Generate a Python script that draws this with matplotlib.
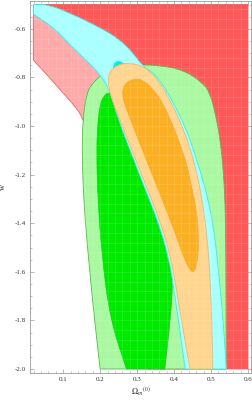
import matplotlib
matplotlib.use("Agg")
import matplotlib.pyplot as plt
import matplotlib.ticker as mticker
from matplotlib.path import Path
from matplotlib.patches import PathPatch
import numpy as np

# ── Contour boundaries (Omega_m, w) ──────────────────────────────────────
# red / pink constraint (1 sigma = red, 2 sigma = pink), open to the upper right
red_x = [0.045, 0.10, 0.16, 0.22, 0.27, 0.31, 0.36, 0.41, 0.45, 0.48, 0.505, 0.525, 0.535]
red_w = [-0.50, -0.54, -0.60, -0.66, -0.72, -0.79, -0.88, -1.00, -1.15, -1.35, -1.60, -1.80, -2.00]
pink_x = [0.02, 0.06, 0.10, 0.13, 0.153, 0.17, 0.20, 0.25, 0.30, 0.33]
pink_w = [-0.73, -0.795, -0.865, -0.915, -0.965, -1.05, -1.20, -1.45, -1.75, -2.00]

# green constraint
lgreen_x = [0.20, 0.185, 0.172, 0.160, 0.154, 0.151, 0.153, 0.163, 0.181, 0.204, 0.24, 0.29,
            0.348, 0.425, 0.48, 0.497, 0.512, 0.525, 0.533, 0.538, 0.540, 0.541]
lgreen_w = [-2.00, -1.80, -1.60, -1.40, -1.25, -1.10, -0.978, -0.866, -0.82, -0.79, -0.76, -0.75,
            -0.748, -0.768, -0.825, -0.866, -0.95, -1.06, -1.18, -1.31, -1.50, -2.00]
dgreen_x = [0.271, 0.226, 0.204, 0.194, 0.190, 0.194, 0.200, 0.210, 0.225, 0.25, 0.28, 0.33,
            0.37, 0.39, 0.397, 0.39, 0.375]
dgreen_w = [-2.00, -1.79, -1.52, -1.31, -1.10, -0.978, -0.91, -0.875, -0.86, -0.88, -1.00, -1.20,
            -1.38, -1.50, -1.64, -1.80, -2.00]

# cyan constraint: a band, left edge then right edge (top to bottom)
cyan_lx = [0.02, 0.073, 0.118, 0.163, 0.204, 0.226, 0.25, 0.285, 0.32, 0.356, 0.383, 0.397, 0.43]
cyan_lw = [-0.54, -0.593, -0.665, -0.73, -0.795, -0.855, -0.977, -1.115, -1.253, -1.39, -1.528,
           -1.64, -2.00]
cyan_rx = [0.02, 0.059, 0.118, 0.20, 0.254, 0.289, 0.316, 0.34, 0.365, 0.385, 0.432, 0.47,
           0.492, 0.507, 0.517, 0.527, 0.535, 0.541]
cyan_rw = [-0.50, -0.50, -0.535, -0.595, -0.645, -0.70, -0.755, -0.775, -0.82, -0.867, -1.005,
           -1.18, -1.30, -1.42, -1.55, -1.70, -1.85, -2.00]
dcyan_x = [0.235, 0.245, 0.26, 0.30, 0.33, 0.38, 0.42, 0.45, 0.46, 0.47,
           0.45, 0.42, 0.38, 0.32, 0.26, 0.235]
dcyan_w = [-0.745, -0.732, -0.735, -0.78, -0.85, -1.00, -1.20, -1.50, -1.80, -2.00,
           -2.00, -1.60, -1.30, -1.10, -0.90, -0.80]

# orange constraint
lorange_x = [0.221, 0.225, 0.235, 0.254, 0.28, 0.31, 0.335, 0.36, 0.38, 0.425, 0.461, 0.481,
             0.492, 0.498, 0.502, 0.505, 0.443, 0.42, 0.403, 0.389, 0.362, 0.326, 0.29, 0.254,
             0.226]
lorange_w = [-0.81, -0.78, -0.762, -0.745, -0.742, -0.75, -0.775, -0.82, -0.867, -1.005, -1.18,
             -1.35, -1.50, -1.65, -1.80, -2.00, -2.00, -1.80, -1.64, -1.528, -1.39, -1.253,
             -1.115, -0.977, -0.866]
dorange_x = [0.267, 0.29, 0.316, 0.345, 0.37, 0.395, 0.416, 0.435, 0.448, 0.46, 0.465, 0.466,
             0.463, 0.455, 0.446, 0.43, 0.398, 0.362, 0.326, 0.29, 0.262, 0.260]
dorange_w = [-0.826, -0.805, -0.81, -0.85, -0.907, -0.99, -1.073, -1.16, -1.254, -1.34, -1.42,
             -1.50, -1.56, -1.60, -1.60, -1.556, -1.42, -1.28, -1.143, -1.005, -0.895, -0.855]

X_MIN, X_MAX = 0.02, 0.60
W_MIN, W_MAX = -2.0, -0.50

x_ticks = [0.1, 0.2, 0.3, 0.4, 0.5, 0.6]
w_ticks = [-2.0, -1.8, -1.6, -1.4, -1.2, -1.0, -0.8, -0.6]


def smooth_region(xs, ws, sharp=()):
    """Closed outline smoothed with quadratic Beziers through the midpoints.
    Indices in `sharp` are kept as hard corners."""
    pts = []
    for i, p in enumerate(zip(xs, ws)):
        pts.append(p)
        if i in sharp:
            pts.append(p)
    pts = np.array(pts, dtype=float)
    mids = (pts + np.roll(pts, -1, axis=0)) / 2
    verts = [mids[-1]]
    codes = [Path.MOVETO]
    for i in range(len(pts)):
        verts += [pts[i], mids[i]]
        codes += [Path.CURVE3, Path.CURVE3]
    verts.append(mids[-1])
    codes.append(Path.CLOSEPOLY)
    return Path(verts, codes)


def add_region(ax, path, face, edge='none', lw=0.0, z=1):
    ax.add_patch(PathPatch(path, facecolor=face, edgecolor=edge, linewidth=lw, zorder=z))


plt.rcParams['font.family'] = ['Liberation Serif', 'DejaVu Serif']
plt.rcParams['mathtext.fontset'] = 'stix'

fig = plt.figure(figsize=(2.53, 4.0), dpi=100)
ax = fig.add_axes([30 / 253, 27.3 / 400, 221 / 253, 371.7 / 400])

# open-ended regions: closed along the right/top edges of the data box
n = len(pink_x)
add_region(ax, smooth_region(pink_x + [X_MAX, X_MAX, X_MIN], pink_w + [W_MIN, W_MAX, W_MAX],
                             sharp=(0, n - 1, n, n + 1, n + 2)),
           '#FFAAAA', '#F06060', 0.6, 1)
n = len(red_x)
add_region(ax, smooth_region(red_x + [X_MAX, X_MAX], red_w + [W_MIN, W_MAX],
                             sharp=(0, n - 1, n, n + 1)),
           '#FF5858', z=2)
add_region(ax, smooth_region(lgreen_x, lgreen_w, sharp=(0, len(lgreen_x) - 1)),
           '#AAF8A2', '#55B855', 0.6, 3)
add_region(ax, smooth_region(dgreen_x, dgreen_w, sharp=(0, len(dgreen_x) - 1)),
           '#00EA00', '#22C022', 0.4, 4)
nl = len(cyan_lx)
add_region(ax, smooth_region(cyan_lx + cyan_rx[::-1], cyan_lw + cyan_rw[::-1],
                             sharp=(0, nl - 1, nl, len(cyan_lx) + len(cyan_rx) - 1)),
           '#AAFFFF', '#33EEEE', 0.6, 5)
add_region(ax, smooth_region(dcyan_x, dcyan_w, sharp=(9, 10)), '#00E8FF', z=6)
add_region(ax, smooth_region(lorange_x, lorange_w, sharp=(15, 16)),
           '#FFD590', '#F2B860', 0.6, 7)
add_region(ax, smooth_region(dorange_x, dorange_w), '#FBB024', '#F4A820', 0.4, 8)

# faint mesh over the shaded regions
for gx in np.arange(0.04, 0.60, 0.02):
    ax.plot([gx, gx], [W_MIN, W_MAX], color='white', alpha=0.12, linewidth=0.6, zorder=9)
for gw in np.arange(-1.96, -0.50, 0.04):
    ax.plot([X_MIN, X_MAX], [gw, gw], color='white', alpha=0.12, linewidth=0.6, zorder=9)

ax.set_xlim(0.0103, 0.608)
ax.set_ylim(-2.0152, -0.4855)

ax.set_xticks(x_ticks)
ax.set_yticks(w_ticks)
ax.xaxis.set_minor_locator(mticker.MultipleLocator(0.02))
ax.yaxis.set_minor_locator(mticker.MultipleLocator(0.05))
ax.xaxis.set_major_formatter(mticker.FormatStrFormatter('%.1f'))
ax.yaxis.set_major_formatter(mticker.FormatStrFormatter('%.1f'))
ax.tick_params(which='both', direction='in', top=True, right=True,
               color='#999999', labelcolor='#333333', labelsize=5, pad=3)
ax.tick_params(which='major', length=3.2, width=0.5)
ax.tick_params(which='minor', length=1.6, width=0.4)
for s in ax.spines.values():
    s.set_color('#999999')
    s.set_linewidth(0.6)

ax.set_xlabel(r'$\Omega_m{}^{(0)}$', fontsize=6, labelpad=3, color='#333333')
ax.set_ylabel('w', fontsize=6, color='#333333')
ax.yaxis.set_label_coords(-0.103, 0.50)

fig.savefig('out.png', dpi=100)
